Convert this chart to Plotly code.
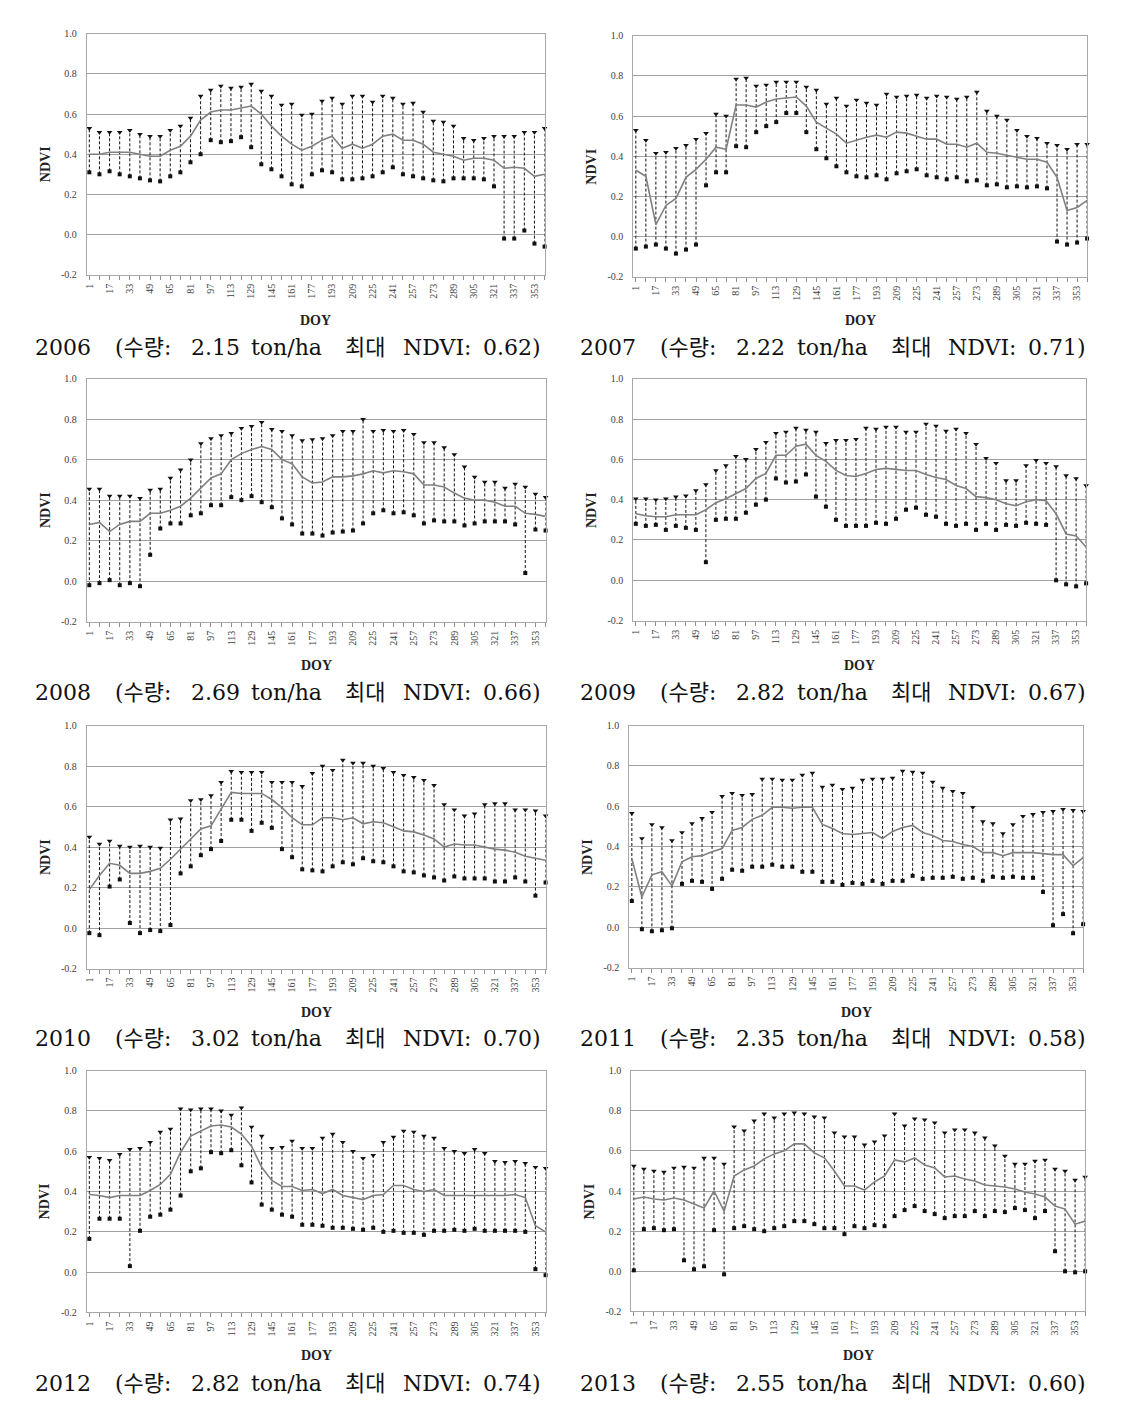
import plotly.graph_objects as go

DOY = [1, 9, 17, 25, 33, 41, 49, 57, 65, 73, 81, 89, 97, 105, 113, 121, 129, 137, 145, 153,
       161, 169, 177, 185, 193, 201, 209, 217, 225, 233, 241, 249, 257, 265, 273, 281, 289,
       297, 305, 313, 321, 329, 337, 345, 353, 361]
TICK_DOY = [1, 17, 33, 49, 65, 81, 97, 113, 129, 145, 161, 177, 193, 209, 225, 241, 257,
            273, 289, 305, 321, 337, 353]

YEARS = ["2006", "2007", "2008", "2009", "2010", "2011", "2012", "2013"]
YIELD = ["2.15", "2.22", "2.69", "2.82", "3.02", "2.35", "2.82", "2.55"]
PEAK = ["0.62", "0.71", "0.66", "0.67", "0.70", "0.58", "0.74", "0.60"]

max_2006 = [0.53,0.51,0.51,0.51,0.52,0.50,0.49,0.49,0.52,0.54,0.58,0.69,0.72,0.74,0.73,0.735,0.75,0.715,0.69,0.645,
            0.65,0.595,0.60,0.665,0.68,0.65,0.69,0.69,0.66,0.69,0.68,0.65,0.655,0.61,0.565,0.56,0.54,0.48,0.47,0.48,
            0.49,0.49,0.49,0.51,0.51,0.53]
min_2006 = [0.31,0.30,0.315,0.30,0.29,0.28,0.27,0.265,0.29,0.31,0.36,0.40,0.47,0.46,0.465,0.485,0.435,0.35,0.325,0.29,
            0.25,0.24,0.30,0.32,0.31,0.275,0.275,0.28,0.29,0.31,0.335,0.30,0.29,0.28,0.27,0.265,0.28,0.28,0.28,0.275,
            0.24,-0.02,-0.02,0.02,-0.045,-0.06]
mean_2006 = [0.40,0.40,0.41,0.41,0.41,0.40,0.39,0.39,0.42,0.44,0.49,0.57,0.61,0.62,0.62,0.63,0.64,0.60,0.54,0.49,
             0.45,0.42,0.44,0.47,0.49,0.43,0.45,0.43,0.45,0.49,0.50,0.47,0.47,0.45,0.41,0.40,0.39,0.37,0.38,0.38,
             0.37,0.33,0.335,0.33,0.29,0.30]

max_2007 = [0.53,0.48,0.415,0.42,0.44,0.455,0.485,0.515,0.61,0.60,0.785,0.79,0.75,0.755,0.77,0.77,0.77,0.745,0.73,0.66,
            0.69,0.65,0.68,0.665,0.655,0.71,0.695,0.70,0.705,0.69,0.70,0.695,0.685,0.695,0.72,0.625,0.60,0.58,0.53,0.50,
            0.49,0.465,0.455,0.435,0.46,0.46]
min_2007 = [-0.06,-0.05,-0.04,-0.06,-0.085,-0.065,-0.04,0.255,0.32,0.32,0.45,0.445,0.52,0.55,0.57,0.615,0.615,0.52,0.435,0.39,
            0.35,0.32,0.30,0.295,0.305,0.285,0.315,0.325,0.335,0.305,0.295,0.285,0.295,0.275,0.28,0.255,0.26,0.245,0.25,0.245,
            0.25,0.24,-0.025,-0.04,-0.03,-0.01]
mean_2007 = [0.33,0.30,0.06,0.155,0.19,0.295,0.335,0.385,0.445,0.435,0.655,0.655,0.645,0.67,0.685,0.69,0.695,0.65,0.57,0.54,
             0.51,0.465,0.48,0.495,0.505,0.495,0.52,0.515,0.50,0.485,0.485,0.46,0.46,0.445,0.465,0.42,0.415,0.405,0.395,0.385,
             0.385,0.37,0.295,0.13,0.145,0.18]

max_2008 = [0.455,0.455,0.42,0.42,0.42,0.41,0.45,0.455,0.51,0.55,0.60,0.68,0.705,0.72,0.73,0.755,0.765,0.785,0.75,0.74,
            0.72,0.695,0.70,0.705,0.72,0.74,0.74,0.80,0.74,0.745,0.74,0.745,0.725,0.685,0.685,0.66,0.625,0.565,0.515,0.49,
            0.49,0.46,0.48,0.465,0.43,0.415]
min_2008 = [-0.02,-0.01,0.005,-0.02,-0.01,-0.025,0.13,0.26,0.285,0.285,0.325,0.335,0.375,0.375,0.415,0.40,0.42,0.39,0.365,0.31,
            0.28,0.235,0.235,0.225,0.24,0.245,0.25,0.285,0.335,0.35,0.335,0.34,0.325,0.285,0.30,0.295,0.295,0.275,0.285,0.295,
            0.295,0.295,0.28,0.04,0.255,0.25]
mean_2008 = [0.28,0.29,0.245,0.28,0.295,0.295,0.335,0.335,0.35,0.37,0.41,0.46,0.51,0.53,0.60,0.63,0.65,0.665,0.65,0.60,
             0.58,0.515,0.485,0.49,0.515,0.515,0.52,0.53,0.545,0.535,0.545,0.54,0.53,0.475,0.475,0.465,0.435,0.41,0.40,0.40,
             0.39,0.37,0.37,0.335,0.33,0.32]

max_2009 = [0.405,0.405,0.40,0.405,0.415,0.42,0.445,0.475,0.545,0.57,0.615,0.60,0.65,0.685,0.73,0.735,0.755,0.745,0.735,0.68,
            0.695,0.695,0.70,0.755,0.75,0.76,0.76,0.735,0.735,0.775,0.765,0.74,0.75,0.73,0.675,0.605,0.58,0.495,0.495,0.57,
            0.595,0.58,0.565,0.52,0.505,0.47]
min_2009 = [0.28,0.27,0.275,0.25,0.27,0.26,0.25,0.09,0.30,0.305,0.305,0.335,0.375,0.40,0.505,0.485,0.49,0.525,0.415,0.365,
            0.30,0.27,0.27,0.27,0.285,0.28,0.305,0.35,0.36,0.325,0.315,0.28,0.27,0.28,0.25,0.28,0.25,0.275,0.27,0.285,
            0.28,0.275,0.00,-0.02,-0.03,-0.015]
mean_2009 = [0.33,0.32,0.315,0.315,0.325,0.325,0.325,0.35,0.385,0.405,0.43,0.455,0.505,0.53,0.62,0.62,0.665,0.675,0.62,0.59,
             0.545,0.52,0.515,0.53,0.55,0.555,0.55,0.545,0.545,0.525,0.51,0.50,0.47,0.455,0.415,0.41,0.40,0.38,0.37,0.39,
             0.40,0.395,0.33,0.23,0.22,0.165]

max_2010 = [0.45,0.415,0.43,0.405,0.40,0.405,0.40,0.395,0.535,0.54,0.63,0.635,0.655,0.72,0.775,0.77,0.77,0.77,0.72,0.72,
            0.72,0.70,0.765,0.80,0.78,0.83,0.815,0.815,0.80,0.79,0.77,0.755,0.745,0.73,0.705,0.61,0.585,0.555,0.565,0.61,
            0.615,0.615,0.585,0.585,0.58,0.555]
min_2010 = [-0.025,-0.035,0.205,0.24,0.025,-0.025,-0.01,-0.015,0.015,0.27,0.305,0.36,0.39,0.43,0.535,0.535,0.48,0.52,0.495,0.39,
            0.35,0.29,0.285,0.28,0.305,0.325,0.315,0.345,0.33,0.325,0.305,0.28,0.275,0.26,0.25,0.235,0.255,0.245,0.245,0.245,
            0.23,0.23,0.25,0.23,0.16,0.225]
mean_2010 = [0.19,0.26,0.32,0.31,0.27,0.27,0.28,0.295,0.34,0.39,0.445,0.49,0.505,0.585,0.67,0.665,0.665,0.665,0.635,0.595,
             0.545,0.51,0.51,0.545,0.545,0.535,0.545,0.515,0.525,0.52,0.50,0.48,0.475,0.46,0.44,0.40,0.415,0.41,0.41,0.40,
             0.39,0.385,0.375,0.355,0.345,0.335]

max_2011 = [0.565,0.44,0.51,0.495,0.43,0.47,0.515,0.54,0.57,0.65,0.665,0.655,0.66,0.735,0.735,0.73,0.73,0.755,0.765,0.695,
            0.705,0.685,0.69,0.73,0.735,0.735,0.74,0.775,0.77,0.765,0.72,0.69,0.675,0.665,0.595,0.525,0.515,0.465,0.51,0.55,
            0.56,0.57,0.575,0.585,0.58,0.575]
min_2011 = [0.13,-0.01,-0.02,-0.015,-0.005,0.215,0.23,0.225,0.19,0.24,0.285,0.28,0.30,0.30,0.31,0.30,0.30,0.275,0.275,0.225,
            0.225,0.21,0.22,0.215,0.23,0.215,0.23,0.23,0.255,0.24,0.245,0.245,0.25,0.24,0.245,0.23,0.25,0.245,0.25,0.245,
            0.245,0.175,0.01,0.065,-0.03,0.015]
mean_2011 = [0.34,0.15,0.26,0.275,0.205,0.325,0.35,0.355,0.375,0.39,0.48,0.495,0.535,0.555,0.595,0.595,0.59,0.595,0.595,0.51,
             0.49,0.465,0.46,0.465,0.47,0.44,0.475,0.495,0.505,0.47,0.455,0.43,0.425,0.41,0.40,0.37,0.37,0.355,0.37,0.37,
             0.37,0.365,0.36,0.36,0.305,0.345]

max_2012 = [0.57,0.565,0.555,0.585,0.61,0.615,0.645,0.695,0.71,0.81,0.805,0.81,0.81,0.80,0.78,0.815,0.72,0.675,0.615,0.62,
            0.65,0.615,0.615,0.665,0.685,0.645,0.60,0.565,0.58,0.645,0.67,0.70,0.695,0.675,0.665,0.615,0.60,0.59,0.61,0.59,
            0.55,0.545,0.55,0.54,0.52,0.515]
min_2012 = [0.165,0.265,0.265,0.265,0.03,0.205,0.275,0.285,0.31,0.38,0.50,0.515,0.595,0.59,0.605,0.53,0.445,0.335,0.31,0.285,
            0.275,0.235,0.235,0.23,0.22,0.22,0.215,0.21,0.22,0.20,0.205,0.195,0.195,0.185,0.205,0.205,0.21,0.205,0.215,0.205,
            0.205,0.205,0.205,0.20,0.015,-0.015]
mean_2012 = [0.385,0.38,0.37,0.38,0.38,0.38,0.405,0.435,0.485,0.595,0.675,0.70,0.725,0.73,0.72,0.685,0.625,0.52,0.455,0.425,
             0.425,0.405,0.41,0.39,0.41,0.38,0.37,0.36,0.38,0.385,0.43,0.43,0.41,0.40,0.41,0.38,0.38,0.38,0.38,0.38,
             0.38,0.38,0.385,0.37,0.23,0.20]

max_2013 = [0.525,0.51,0.50,0.495,0.515,0.52,0.515,0.565,0.565,0.535,0.72,0.70,0.75,0.785,0.765,0.785,0.79,0.785,0.77,0.765,
            0.69,0.67,0.67,0.63,0.645,0.675,0.785,0.725,0.76,0.755,0.74,0.69,0.705,0.705,0.69,0.665,0.625,0.575,0.535,0.535,
            0.55,0.555,0.51,0.50,0.455,0.47]
min_2013 = [0.005,0.21,0.215,0.205,0.21,0.055,0.01,0.025,0.205,-0.015,0.215,0.225,0.21,0.20,0.215,0.225,0.25,0.25,0.235,0.215,
            0.215,0.185,0.225,0.215,0.23,0.225,0.275,0.305,0.325,0.30,0.285,0.265,0.275,0.275,0.30,0.275,0.30,0.295,0.315,0.305,
            0.265,0.30,0.10,0.00,-0.005,0.00]
mean_2013 = [0.36,0.37,0.36,0.355,0.365,0.355,0.335,0.315,0.40,0.30,0.475,0.505,0.525,0.56,0.585,0.60,0.635,0.635,0.59,0.565,
             0.50,0.425,0.425,0.405,0.445,0.475,0.555,0.545,0.565,0.53,0.515,0.47,0.475,0.46,0.45,0.43,0.425,0.42,0.41,0.395,
             0.385,0.37,0.325,0.31,0.235,0.25]

MAXS = [max_2006, max_2007, max_2008, max_2009, max_2010, max_2011, max_2012, max_2013]
MINS = [min_2006, min_2007, min_2008, min_2009, min_2010, min_2011, min_2012, min_2013]
MEANS = [mean_2006, mean_2007, mean_2008, mean_2009, mean_2010, mean_2011, mean_2012, mean_2013]

# page body has an 8px margin
PAD = 8
W, H = 1136 - 2 * PAD, 1402 - PAD
# small empirical vertical correction of the capture
YS, YO = 0.9916, 5.3

def fx(px):
    return (px - PAD) / W

def fy(py):
    p = (py - YO) / YS
    return 1 - (p - PAD) / H

# plot-area boxes in window pixels: (left, right, top, bottom)
BOXES = [(84, 543, 33, 274), (632, 1087, 35, 276),
         (84, 544, 378, 621), (632, 1086, 378, 620),
         (84, 544, 725, 968), (628, 1083, 725, 967),
         (84, 544, 1070, 1312), (630, 1085, 1070, 1311)]
CAP_Y = [347, 347, 692, 692, 1038, 1038, 1383, 1383]
DOY_Y = [320, 320, 665, 665, 1012, 1012, 1355, 1355]
CAP_X0 = [30, 577, 30, 577, 30, 577, 30, 577]

SERIF = "Liberation Serif, Times New Roman, serif"
CAPFONT = "DejaVu Serif, Noto Sans CJK KR, serif"

fig = go.Figure()
annotations = []
layout_axes = {}

for i in range(8):
    n = i + 1
    xa = "x" if n == 1 else f"x{n}"
    ya = "y" if n == 1 else f"y{n}"
    L, R, T, B = BOXES[i]
    mx, mn, me = MAXS[i], MINS[i], MEANS[i]

    lx, ly = [], []
    for d, hi, lo in zip(DOY, mx, mn):
        lx += [d, d, None]
        ly += [lo, hi, None]
    fig.add_trace(go.Scatter(x=lx, y=ly, mode="lines", xaxis=xa, yaxis=ya,
                             line=dict(color="#111111", width=1, dash="3px,2px"),
                             hoverinfo="skip", showlegend=False, cliponaxis=False))
    fig.add_trace(go.Scatter(x=DOY, y=me, mode="lines", xaxis=xa, yaxis=ya,
                             line=dict(color="#808080", width=1.6),
                             showlegend=False, cliponaxis=False))
    fig.add_trace(go.Scatter(x=DOY, y=mx, mode="markers", xaxis=xa, yaxis=ya,
                             marker=dict(symbol="triangle-down", size=5, color="#111111"),
                             showlegend=False, cliponaxis=False))
    fig.add_trace(go.Scatter(x=DOY, y=mn, mode="markers", xaxis=xa, yaxis=ya,
                             marker=dict(symbol="square", size=4, color="#111111"),
                             showlegend=False, cliponaxis=False))

    xkey = "xaxis" if n == 1 else f"xaxis{n}"
    ykey = "yaxis" if n == 1 else f"yaxis{n}"
    layout_axes[xkey] = dict(
        domain=[fx(L), fx(R)], anchor=ya, range=[-1, 361],
        tickmode="array", tickvals=TICK_DOY, ticktext=[str(t) for t in TICK_DOY],
        tickangle=-90, tickfont=dict(family=SERIF, size=10, color="#404040"),
        ticks="outside", ticklen=4, tickcolor="#909090",
        minor=dict(ticks="outside", tick0=1, dtick=8, ticklen=4, tickcolor="#909090"),
        showgrid=False, zeroline=False, showline=True, linecolor="#a8a8a8",
        linewidth=1, mirror=True,
    )
    layout_axes[ykey] = dict(
        domain=[fy(B), fy(T)], anchor=xa, range=[-0.2, 1.0],
        tickmode="array", tickvals=[-0.2, 0.0, 0.2, 0.4, 0.6, 0.8, 1.0],
        ticktext=["-0.2", "0.0", "0.2", "0.4", "0.6", "0.8", "1.0"],
        tickfont=dict(family=SERIF, size=10, color="#404040"),
        ticks="", ticklabelstandoff=7, showgrid=True, gridcolor="#a0a0a0", gridwidth=1,
        zeroline=False, showline=True, linecolor="#a8a8a8", linewidth=1, mirror=True,
    )

    annotations.append(dict(text="<b>NDVI</b>", xref="paper", yref="paper",
                            x=fx(L - 42), y=fy((T + B) / 2 + 10),
                            xanchor="center", yanchor="middle",
                            showarrow=False, textangle=-90,
                            font=dict(family=SERIF, size=14, color="#222222")))
    annotations.append(dict(text="<b>DOY</b>", xref="paper", yref="paper",
                            x=fx((L + R) / 2), y=fy(DOY_Y[i]),
                            xanchor="center", yanchor="middle",
                            showarrow=False, font=dict(family=SERIF, size=14, color="#222222")))
    x0 = CAP_X0[i]
    tokens = [(0, YEARS[i]),
              (80, "(수량:"),
              (156, YIELD[i]),
              (217, "ton/ha"),
              (311, "최대"),
              (369, "NDVI:"),
              (449, PEAK[i] + ")")]
    for off, t in tokens:
        annotations.append(dict(text=t, xref="paper", yref="paper",
                                x=fx(x0 + off), y=fy(CAP_Y[i]),
                                xanchor="left", yanchor="middle", showarrow=False,
                                font=dict(family=CAPFONT, size=22, color="#111111")))

fig.update_layout(
    width=W, height=H, margin=dict(l=0, r=0, t=0, b=0),
    paper_bgcolor="white", plot_bgcolor="white",
    showlegend=False, annotations=annotations, **layout_axes,
)

fig.write_html("out.html")
